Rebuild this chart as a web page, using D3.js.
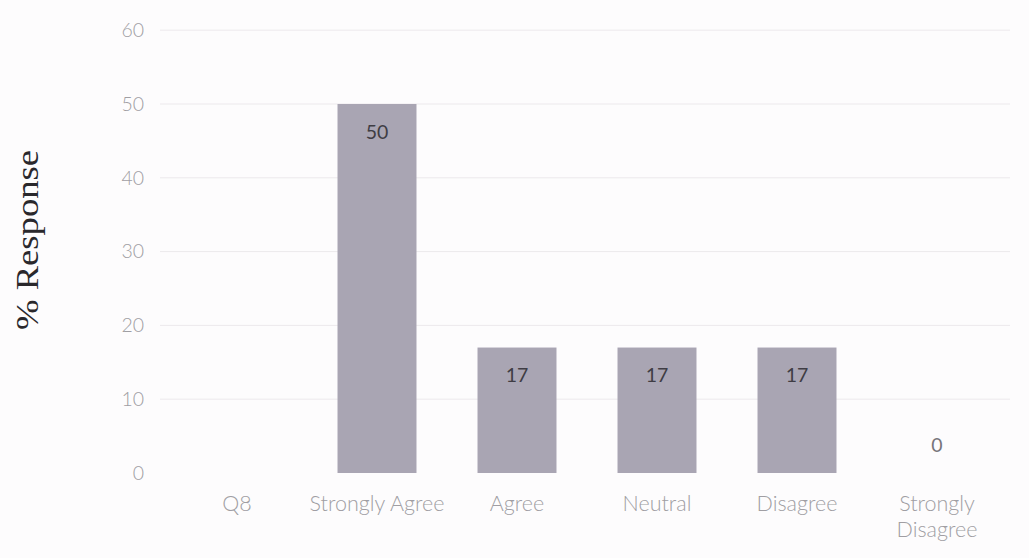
<!DOCTYPE html>
<html>
<head>
<meta charset="utf-8">
<script src="https://cdn.jsdelivr.net/npm/d3@7"></script>
<style>
  html, body { margin: 0; padding: 0; background: #fdfcfd; }
  svg { display: block; }
</style>
</head>
<body>
<svg id="chart" width="1029" height="558"></svg>
<script>
const categories = ["Q8", "Strongly Agree", "Agree", "Neutral", "Disagree", "Strongly Disagree"];
const values = [null, 50, 17, 17, 17, 0];
const yTicks = [0, 10, 20, 30, 40, 50, 60];
const yLabel = "% Response";

const svg = d3.select("#chart");
const x = d3.scaleBand().domain(categories).range([167, 1007]).paddingInner(0.436).paddingOuter(0.218);
const y = d3.scaleLinear().domain([0, 60]).range([473, 30.2]);
const sans = "Lato, 'Open Sans', sans-serif";

// gridlines
svg.append("g").selectAll("line").data(yTicks.slice(1)).join("line")
  .attr("x1", 160).attr("x2", 1010)
  .attr("y1", d => y(d)).attr("y2", d => y(d))
  .attr("stroke", "#ece9ec").attr("stroke-width", 1);

// y axis
const yAxis = d3.axisLeft(y).tickValues(yTicks).tickSize(0).tickPadding(0);
const gy = svg.append("g").attr("transform", "translate(144,0)").call(yAxis);
gy.select(".domain").remove();
gy.selectAll("text").attr("font-family", sans).attr("font-size", 19.5)
  .attr("font-weight", 300).attr("fill", "#a09ea3");

// bars
const data = categories.map((c, i) => ({ c, v: values[i] }));
svg.append("g").selectAll("rect").data(data.filter(d => d.v !== null && d.v > 0)).join("rect")
  .attr("x", d => x(d.c)).attr("width", x.bandwidth())
  .attr("y", d => y(d.v)).attr("height", d => y(0) - y(d.v))
  .attr("fill", "#a9a5b3");

// value labels
svg.append("g").selectAll("text").data(data.filter(d => d.v !== null)).join("text")
  .attr("x", d => x(d.c) + x.bandwidth() / 2)
  .attr("y", d => d.v > 0 ? y(d.v) + 28 : y(d.v) - 28)
  .attr("dy", "0.35em")
  .attr("text-anchor", "middle")
  .attr("font-family", sans).attr("font-size", 19.5)
  .attr("fill", d => d.v > 0 ? "#3f3d44" : "#77757a")
  .text(d => d.v);

// x axis
const xAxis = d3.axisBottom(x).tickSize(0).tickPadding(0);
const gx = svg.append("g").attr("transform", "translate(0,503)").call(xAxis);
gx.select(".domain").remove();
gx.selectAll("text").attr("font-family", sans).attr("font-size", 21.5)
  .attr("font-weight", 300).attr("fill", "#a09ea3").attr("dy", "0.35em")
  .each(function(d) {
    const t = d3.select(this);
    if (d === "Strongly Disagree") {
      t.text(null).attr("dy", null);
      t.append("tspan").attr("x", 0).attr("dy", "0.35em").text("Strongly");
      t.append("tspan").attr("x", 0).attr("dy", 26).text("Disagree");
    }
  });

// y label
svg.append("text")
  .attr("transform", "translate(38,240) rotate(-90)")
  .attr("text-anchor", "middle")
  .attr("font-family", "'Liberation Serif', 'Times New Roman', serif")
  .attr("font-size", 31)
  .attr("fill", "#2a282c")
  .attr("textLength", 180).attr("lengthAdjust", "spacingAndGlyphs")
  .text(yLabel);
</script>
</body>
</html>
